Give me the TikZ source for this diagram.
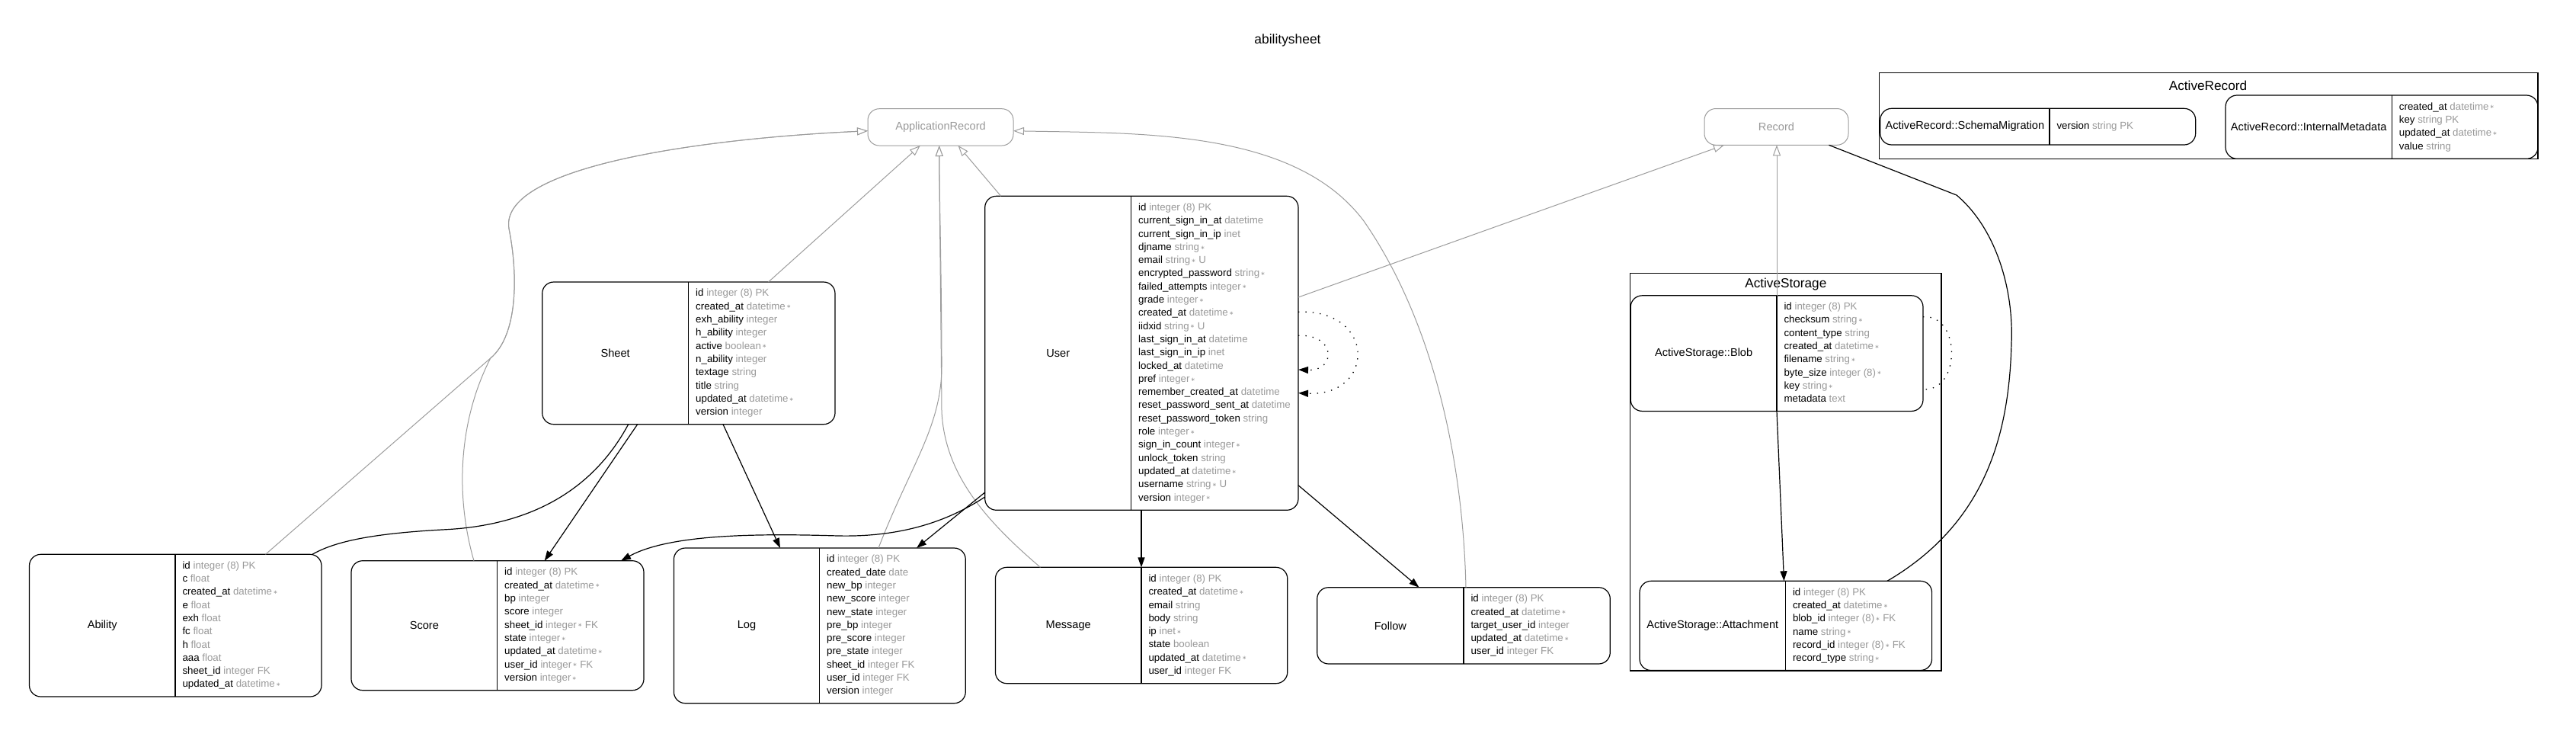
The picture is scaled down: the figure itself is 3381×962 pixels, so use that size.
\documentclass[tikz,border=0pt]{standalone}
\usepackage{fontspec}
\setmainfont{Liberation Sans}
\newfontfamily\symf{DejaVu Sans}
\usetikzlibrary{arrows.meta}
\definecolor{tg}{HTML}{999999}
\definecolor{eg}{HTML}{9C9C9C}
\newcommand\nnull{\hspace{1.5pt}\raisebox{1.3pt}{\symf\fontsize{7}{7}\selectfont ∗}}
\newcommand\attr[2]{\strut#1 \textcolor{tg}{#2}}
\tikzset{
  ebox/.style={draw=black, line width=1.2pt, rounded corners=15pt, inner sep=0pt, outer sep=0pt},
  ediv/.style={draw=black, line width=1.2pt},
  ename/.style={inner sep=0pt, font=\fontsize{14.6}{17}\selectfont},
  eattr/.style={anchor=west, inner xsep=9.3pt, inner ysep=0pt, align=left, font=\fontsize{13.3}{17.3}\selectfont},
  abox/.style={draw=eg, line width=1pt, rounded corners=15pt, inner sep=0pt, outer sep=0pt, text=tg, font=\fontsize{14.6}{17}\selectfont},
  cluster/.style={draw=black, line width=1.3pt, inner sep=0pt, outer sep=0pt},
  ctitle/.style={inner sep=0pt, font=\fontsize{17.2}{20}\selectfont},
  fk/.style={draw=black, line width=1.2pt, -{Triangle[length=13pt,width=9pt]}},
  fkn/.style={draw=black, line width=1.2pt},
  inh/.style={draw=eg, line width=1pt, -{Triangle[open,length=14pt,width=10pt,fill=white]}},
  selfref/.style={draw=black, line width=1.3pt, dash pattern=on 1.4pt off 8pt, -{Triangle[length=13pt,width=9pt]}},
  selfrefn/.style={draw=black, line width=1.3pt, dash pattern=on 1.4pt off 8pt}
}
% name, label, x0, x1, xdiv, y0, y1, attributes
\newcommand\erdentity[8]{%
  \pgfmathsetmacro\ew{#4-#3}%
  \pgfmathsetmacro\eh{#7-#6}%
  \node[ebox, minimum width=\ew pt, minimum height=\eh pt] (#1) at ({(#3+#4)/2},{(#6+#7)/2}) {};
  \draw[ediv] ({#5},{#6}) -- ({#5},{#7});
  \node[ename] (#1-name) at ({(#3+#5)/2},{(#6+#7)/2}) {#2};
  \node[eattr] (#1-attrs) at ({#5},{(#6+#7)/2}) {#8};
}
\begin{document}
\begin{tikzpicture}[x=1pt,y=-1pt]
\fill[white] (0,0) rectangle (3381,962);
\useasboundingbox (0,0) rectangle (3381,962);

\node[inner sep=0pt, font=\fontsize{17.4}{20}\selectfont] (title) at (1690,53) {abilitysheet};

% clusters
\node[cluster, minimum width=408.1pt, minimum height=521.6pt] (ASc) at (2343.85,619.2) {};
\node[ctitle] (ASc-title) at (2343.8,373.3) {ActiveStorage};
\node[cluster, minimum width=864.4pt, minimum height=113pt] (ARc) at (2898.8,152.2) {};
\node[ctitle] (ARc-title) at (2898,112.7) {ActiveRecord};

% abstract nodes
\node[abox, minimum width=191pt, minimum height=48.3pt] (AR) at (1234.5,166.85) {ApplicationRecord};
\node[abox, minimum width=189pt, minimum height=47.8pt] (Record) at (2331.5,166.4) {Record};

\erdentity{Sheet}{Sheet}{711.7}{1096}{903.7}{370}{556.7}{%
\attr{id}{integer (8) PK}\\
\attr{created\_at}{datetime\nnull}\\
\attr{exh\_ability}{integer}\\
\attr{h\_ability}{integer}\\
\attr{active}{boolean\nnull}\\
\attr{n\_ability}{integer}\\
\attr{textage}{string}\\
\attr{title}{string}\\
\attr{updated\_at}{datetime\nnull}\\
\attr{version}{integer}}

\erdentity{User}{User}{1292.7}{1704}{1484.7}{257.3}{669.3}{%
\attr{id}{integer (8) PK}\\
\attr{current\_sign\_in\_at}{datetime}\\
\attr{current\_sign\_in\_ip}{inet}\\
\attr{djname}{string\nnull}\\
\attr{email}{string\nnull{} U}\\
\attr{encrypted\_password}{string\nnull}\\
\attr{failed\_attempts}{integer\nnull}\\
\attr{grade}{integer\nnull}\\
\attr{created\_at}{datetime\nnull}\\
\attr{iidxid}{string\nnull{} U}\\
\attr{last\_sign\_in\_at}{datetime}\\
\attr{last\_sign\_in\_ip}{inet}\\
\attr{locked\_at}{datetime}\\
\attr{pref}{integer\nnull}\\
\attr{remember\_created\_at}{datetime}\\
\attr{reset\_password\_sent\_at}{datetime}\\
\attr{reset\_password\_token}{string}\\
\attr{role}{integer\nnull}\\
\attr{sign\_in\_count}{integer\nnull}\\
\attr{unlock\_token}{string}\\
\attr{updated\_at}{datetime\nnull}\\
\attr{username}{string\nnull{} U}\\
\attr{version}{integer\nnull}}

\erdentity{Blob}{ActiveStorage::Blob}{2140.2}{2524}{2332}{387.8}{539.4}{%
\attr{id}{integer (8) PK}\\
\attr{checksum}{string\nnull}\\
\attr{content\_type}{string}\\
\attr{created\_at}{datetime\nnull}\\
\attr{filename}{string\nnull}\\
\attr{byte\_size}{integer (8)\nnull}\\
\attr{key}{string\nnull}\\
\attr{metadata}{text}}

\erdentity{Ability}{Ability}{38.5}{422}{230}{727.3}{914}{%
\attr{id}{integer (8) PK}\\
\attr{c}{float}\\
\attr{created\_at}{datetime\nnull}\\
\attr{e}{float}\\
\attr{exh}{float}\\
\attr{fc}{float}\\
\attr{h}{float}\\
\attr{aaa}{float}\\
\attr{sheet\_id}{integer FK}\\
\attr{updated\_at}{datetime\nnull}}

\erdentity{Score}{Score}{461}{845}{652.7}{735.7}{905.7}{%
\attr{id}{integer (8) PK}\\
\attr{created\_at}{datetime\nnull}\\
\attr{bp}{integer}\\
\attr{score}{integer}\\
\attr{sheet\_id}{integer\nnull{} FK}\\
\attr{state}{integer\nnull}\\
\attr{updated\_at}{datetime\nnull}\\
\attr{user\_id}{integer\nnull{} FK}\\
\attr{version}{integer\nnull}}

\erdentity{Log}{Log}{884.4}{1267.3}{1075.6}{719}{922.7}{%
\attr{id}{integer (8) PK}\\
\attr{created\_date}{date}\\
\attr{new\_bp}{integer}\\
\attr{new\_score}{integer}\\
\attr{new\_state}{integer}\\
\attr{pre\_bp}{integer}\\
\attr{pre\_score}{integer}\\
\attr{pre\_state}{integer}\\
\attr{sheet\_id}{integer FK}\\
\attr{user\_id}{integer FK}\\
\attr{version}{integer}}

\erdentity{Message}{Message}{1306.4}{1689.8}{1498}{744.3}{896.7}{%
\attr{id}{integer (8) PK}\\
\attr{created\_at}{datetime\nnull}\\
\attr{email}{string}\\
\attr{body}{string}\\
\attr{ip}{inet\nnull}\\
\attr{state}{boolean}\\
\attr{updated\_at}{datetime\nnull}\\
\attr{user\_id}{integer FK}}

\erdentity{Follow}{Follow}{1728.7}{2113.3}{1921}{770.7}{871}{%
\attr{id}{integer (8) PK}\\
\attr{created\_at}{datetime\nnull}\\
\attr{target\_user\_id}{integer}\\
\attr{updated\_at}{datetime\nnull}\\
\attr{user\_id}{integer FK}}

\erdentity{Attachment}{ActiveStorage::Attachment}{2152}{2535.6}{2343.5}{762.3}{879.5}{%
\attr{id}{integer (8) PK}\\
\attr{created\_at}{datetime\nnull}\\
\attr{blob\_id}{integer (8)\nnull{} FK}\\
\attr{name}{string\nnull}\\
\attr{record\_id}{integer (8)\nnull{} FK}\\
\attr{record\_type}{string\nnull}}

\erdentity{SchemaMigration}{ActiveRecord::SchemaMigration}{2467.8}{2881.7}{2690}{142.3}{190}{%
\attr{version}{string PK}}

\erdentity{InternalMetadata}{ActiveRecord::InternalMetadata}{2921}{3331}{3139.4}{125}{208.3}{%
\attr{created\_at}{datetime\nnull}\\
\attr{key}{string PK}\\
\attr{updated\_at}{datetime\nnull}\\
\attr{value}{string}}

% inheritance
\draw[inh] (Sheet.north -| 1008.5,0) -- (AR.south -| 1207.8,0);
\draw[inh] (User.north -| 1313.7,0) -- (AR.south -| 1257.5,0);
\draw[inh] (Log.north -| 1153,0) .. controls (1195,610) and (1236,560) .. (1236,480) .. controls (1236,380) and (1233,260) .. (AR.south -| 1232.7,0);
\draw[inh] (Message.north -| 1365.5,0) .. controls (1290,680) and (1240,620) .. (1236,540) .. controls (1235,420) and (1233,260) .. (AR.south -| 1232.7,0);
\draw[inh] (Ability.north -| 348.5,0) -- (643.7,470) .. controls (680,440) and (680,360) .. (668,300) .. controls (655,222) and (900,183) .. (AR.west |- 0,171.7);
\draw[inh] (Score.north -| 622,0) .. controls (600,660) and (598,560) .. (643.7,470) .. controls (680,440) and (680,360) .. (668,300) .. controls (655,222) and (900,183) .. (AR.west |- 0,171.7);
\draw[inh] (Follow.north -| 1924,0) .. controls (1920,600) and (1880,420) .. (1790,290) .. controls (1700,170) and (1500,175) .. (AR.east |- 0,171.7);
\draw[inh] (User.east |- 0,390) -- (Record.south -| 2263,0);
\draw[inh] (Blob.north -| 2332,0) -- (Record.south -| 2332,0);

% associations
\draw[fkn] (Sheet.south -| 824.7,0) .. controls (780,640) and (700,690) .. (580,695) .. controls (490,700) and (440,710) .. (Ability.north -| 410,0);
\draw[fk] (Sheet.south -| 836.7,0) -- (Score.north -| 714.7,0);
\draw[fk] (Sheet.south -| 949,0) -- (Log.north -| 1024,0);
\draw[fk] (User.west |- 0,652) .. controls (1250,680) and (1190,705) .. (1100,703) .. controls (1000,700) and (880,700) .. (Score.north -| 815,0);
\draw[fk] (User.west |- 0,646) -- (Log.north -| 1203,0);
\draw[fk] (User.south -| 1498,0) -- (Message.north -| 1498,0);
\draw[fk] (User.east |- 0,636.7) -- (Follow.north -| 1862.5,0);
\draw[fk] (Blob.south -| 2332,0) -- (Attachment.north -| 2341.5,0);
\draw[fkn] (Record.south -| 2400.4,0) -- (2568,256) .. controls (2620,300) and (2643,380) .. (2640,450) .. controls (2637,580) and (2600,690) .. (Attachment.north -| 2477,0);

% self references
\draw[selfref] (User.east |- 0,409.3) .. controls (1806,405) and (1806,520) .. (User.east |- 0,515.7);
\draw[selfref] (User.east |- 0,440.3) .. controls (1754,438) and (1754,487) .. (User.east |- 0,485);
\draw[selfrefn] (Blob.east |- 0,415.7) .. controls (2574,412) and (2574,514) .. (Blob.east |- 0,510.7);
\end{tikzpicture}
\end{document}
